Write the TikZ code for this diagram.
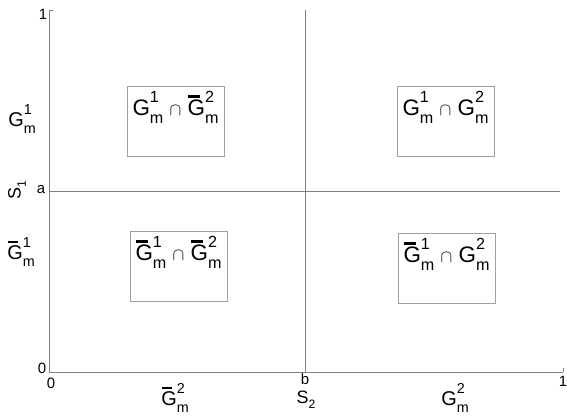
\documentclass[tikz,border=0pt]{standalone}
\usepackage{fontspec}
\setmainfont{Liberation Sans}
\usetikzlibrary{positioning}
\definecolor{axgray}{RGB}{128,128,128}
\definecolor{boxgray}{RGB}{160,160,160}
\newcommand{\Gsm}[1]{G\rlap{\raisebox{0.6em}{\scalebox{0.72}{#1}}}\raisebox{-0.36em}{\scalebox{0.72}{m}}}
\newcommand{\Gbm}[1]{\rlap{\hspace{0.03em}\raisebox{0.8em}{\rule{0.52em}{0.12em}}}\Gsm{#1}}
\newcommand{\capsym}{ \scalebox{0.85}{$\cap$} }
\tikzset{
  ax/.style={axgray, line width=0.6pt},
  qbox/.style={draw=boxgray, line width=0.6pt, minimum width=97bp, minimum height=70bp, inner sep=0pt},
  qtxt/.style={font=\fontsize{22.5}{26}\selectfont, inner sep=0pt},
  slab/.style={font=\fontsize{20}{22}\selectfont, inner sep=0pt},
  vlab/.style={font=\fontsize{18}{20}\selectfont, inner sep=0pt},
  tlab/.style={font=\fontsize{15}{17}\selectfont, inner sep=0pt},
}

\begin{document}
\begin{tikzpicture}[x=1bp, y=-1bp]
    \useasboundingbox (0,0) rectangle (567,415);
    % axes and ticks
    \coordinate (o) at (49,372); \coordinate (ytop) at (49,10); \coordinate (xend) at (563,372);
    \draw[ax] (ytop) -- (o) -- (xend);
    \draw[ax] (ytop) -- ++(4,0); \draw[ax] (xend) -- ++(0,-4);
    % thresholds
    \coordinate (a) at (49,191); \coordinate (aend) at (560,191);
    \coordinate (b) at (305,372); \coordinate (btop) at (305,10);
    \draw[ax] (a) -- (aend);
    \draw[ax] (b) -- (btop);
    % tick labels
    \node[tlab] (y1) at (43,14) {1};
    \node[tlab] (y0) at (42,368) {0};
    \node[tlab] (x0) at (51,383) {0};
    \node[tlab] (x1) at (563,381) {1};
    \node[tlab] (alab) at (41,190) {a};
    \node[tlab] (blab) at (305,379) {b};
    \node[vlab, rotate=90] (s1) at (17,190) {S\raisebox{-0.3em}{\scalebox{0.68}{1}}};
    \node[vlab] (s2) at (306,400) {S\raisebox{-0.3em}{\scalebox{0.68}{2}}};
    % set labels
    \node[slab] (g1) at (22,119) {\Gsm{1}};
    \node[slab] (gb1) at (21,252) {\Gbm{1}};
    \node[slab] (gb2) at (175,398) {\Gbm{2}};
    \node[slab] (g2) at (455,398) {\Gsm{2}};
    % quadrants
    \node[qbox] (tl) at (175.5,121) {};
    \node[qbox] (tr) at (445.5,121) {};
    \node[qbox] (bl) at (178.5,266) {};
    \node[qbox] (br) at (446.5,268) {};
    \node[qtxt, below=5bp of tl.north] (tltxt) {\Gsm{1}\capsym\Gbm{2}};
    \node[qtxt, below=5bp of tr.north] (trtxt) {\Gsm{1}\capsym\Gsm{2}};
    \node[qtxt, below=5bp of bl.north] (bltxt) {\Gbm{1}\capsym\Gbm{2}};
    \node[qtxt, below=5bp of br.north] (brtxt) {\Gbm{1}\capsym\Gsm{2}};
\end{tikzpicture}
\end{document}
